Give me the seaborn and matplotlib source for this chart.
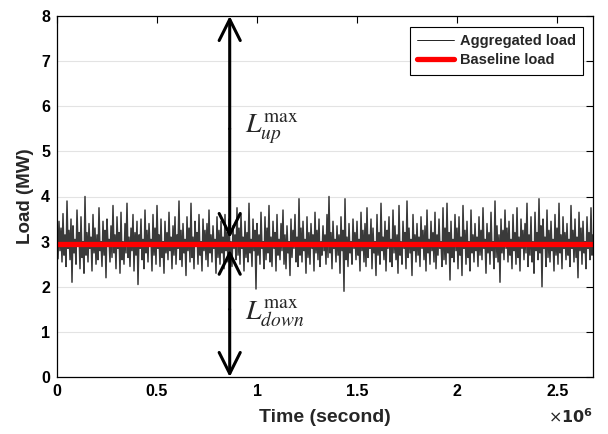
import numpy as np
import pandas as pd
import matplotlib
matplotlib.use("Agg")
import matplotlib.pyplot as plt
import seaborn as sns

# ---- data ----
load_mw = [
    3.10, 2.62, 3.45, 2.80, 3.30, 2.55, 3.62, 2.70, 3.15, 2.45, 3.90, 2.85, 3.25, 2.60, 3.50, 2.10, 3.35, 2.75, 3.05, 2.50, 3.70, 2.90, 3.20, 2.40, 3.55, 2.65, 3.00, 2.30, 4.00, 2.70,
    3.20, 2.55, 3.40, 2.85, 3.10, 2.35, 3.60, 2.75, 3.30, 2.50, 3.15, 2.60, 3.75, 2.80, 3.00, 2.45, 3.45, 2.70, 3.25, 2.20, 3.50, 2.90, 3.05, 2.55, 3.35, 2.65, 3.80, 2.75, 3.15, 2.40,
    3.55, 2.85, 3.20, 2.30, 3.65, 2.60, 3.00, 2.50, 3.40, 2.75, 3.85, 2.65, 3.10, 2.45, 3.30, 2.80, 3.60, 2.35, 3.20, 2.70, 3.45, 2.05, 3.15, 2.85, 3.50, 2.60, 3.05, 2.40, 3.70, 2.75,
    3.25, 2.55, 3.40, 2.90, 3.05, 2.35, 3.60, 2.70, 3.30, 2.50, 3.80, 2.85, 3.15, 2.45, 3.50, 2.65, 3.00, 2.30, 3.45, 2.75, 3.20, 2.60, 3.65, 2.80, 3.10, 2.40, 3.35, 2.70, 3.55, 2.50,
    3.15, 2.85, 3.90, 2.60, 3.25, 2.45, 3.40, 2.75, 3.05, 2.25, 3.55, 2.80, 3.30, 2.55, 3.85, 2.65, 3.10, 2.40, 3.45, 2.90, 3.20, 2.50, 3.60, 2.70, 3.00, 2.35, 3.50, 2.80, 3.25, 2.60,
    3.40, 2.45, 3.70, 2.75, 3.15, 2.55, 3.35, 2.85, 3.05, 2.30, 3.55, 2.65, 3.25, 2.50, 3.45, 2.75, 3.10, 2.40, 3.60, 2.80, 3.20, 2.55, 3.50, 2.70, 3.00, 2.45, 3.35, 2.85, 3.15, 2.60,
    3.75, 2.70, 3.30, 2.50, 3.60, 2.85, 3.10, 2.35, 3.45, 2.65, 3.20, 2.55, 3.85, 2.75, 3.05, 2.45, 3.50, 2.80, 3.25, 1.95, 3.40, 2.70, 3.15, 2.50, 3.65, 2.85, 3.00, 2.40, 3.55, 2.60,
    3.30, 2.75, 3.80, 2.55, 3.10, 2.45, 3.45, 2.85, 3.20, 2.35, 3.60, 2.70, 3.05, 2.60, 3.40, 2.80, 3.70, 2.50, 3.15, 2.40, 3.35, 2.75, 3.00, 2.25, 3.50, 2.65, 3.25, 2.85, 3.60, 2.55,
    3.10, 2.45, 3.95, 2.70, 3.30, 2.55, 3.45, 2.80, 3.05, 2.30, 3.55, 2.65, 3.20, 2.50, 3.40, 2.85, 3.15, 2.35, 3.65, 2.75, 3.25, 2.60, 3.50, 2.45, 3.00, 2.70, 3.35, 2.80, 3.15, 2.50,
    3.60, 2.65, 4.00, 2.75, 3.20, 2.40, 3.45, 2.85, 3.05, 2.55, 3.35, 2.70, 3.15, 2.30, 3.55, 2.80, 3.25, 1.90, 3.95, 2.60, 3.10, 2.45, 3.40, 2.75, 3.00, 2.50, 3.50, 2.85, 3.20, 2.60,
    3.45, 2.70, 3.05, 2.35, 3.65, 2.80, 3.25, 2.55, 3.40, 2.45, 3.75, 2.65, 3.15, 2.85, 3.50, 2.40, 3.30, 2.75, 3.00, 2.25, 3.60, 2.70, 3.20, 2.50, 3.85, 2.80, 3.10, 2.60, 3.45, 2.35,
    3.25, 2.85, 3.55, 2.55, 3.05, 2.45, 3.70, 2.75, 3.35, 2.60, 3.15, 2.30, 3.80, 2.70, 3.00, 2.50, 3.45, 2.85, 3.20, 2.40, 3.90, 2.65, 3.30, 2.75, 3.05, 2.25, 3.60, 2.80, 3.15, 2.55,
    3.40, 2.70, 3.10, 2.45, 3.55, 2.85, 3.25, 2.60, 3.35, 2.35, 3.70, 2.75, 3.05, 2.50, 3.45, 2.80, 3.20, 2.55, 3.65, 2.40, 3.15, 2.70, 3.50, 2.85, 3.00, 2.45, 3.75, 2.60, 3.30, 2.50,
    3.85, 2.75, 3.20, 2.15, 3.45, 2.65, 3.05, 2.55, 3.60, 2.80, 3.30, 2.40, 3.55, 2.70, 3.10, 2.25, 3.80, 2.85, 3.25, 2.50, 3.45, 2.65, 3.00, 2.35, 3.70, 2.75, 3.15, 2.55, 3.40, 2.80,
    3.10, 2.45, 3.55, 2.70, 3.25, 2.60, 3.75, 2.85, 3.05, 2.30, 3.40, 2.75, 3.20, 2.50, 3.65, 2.80, 3.00, 2.40, 3.90, 2.65, 3.35, 2.55, 3.15, 2.10, 3.50, 2.75, 3.25, 2.60, 3.70, 2.85,
    3.30, 2.55, 3.45, 2.70, 3.05, 2.40, 3.60, 2.80, 3.20, 2.50, 3.75, 2.65, 3.10, 2.35, 3.50, 2.85, 3.25, 2.60, 3.40, 2.75, 3.85, 2.45, 3.15, 2.70, 3.55, 2.55, 3.00, 2.30, 3.65, 2.80,
    3.20, 2.60, 3.95, 2.75, 3.35, 2.00, 3.50, 2.85, 3.10, 2.45, 3.70, 2.65, 3.25, 2.55, 3.45, 2.80, 3.05, 2.35, 3.60, 2.70, 3.30, 2.50, 3.85, 2.75, 3.15, 2.40, 3.55, 2.85, 3.20, 2.60,
    3.40, 2.70, 3.05, 2.45, 3.80, 2.85, 3.25, 2.55, 3.50, 2.65, 3.10, 2.20, 3.65, 2.80, 3.30, 2.50, 3.45, 2.75, 3.00, 2.40, 3.55, 2.85, 3.20, 2.60, 3.75, 2.70, 3.15,
]
t_end = 2678400            # seconds (31 days)
baseline_mw = 2.95
arrow_x = 0.863e6
up_arrow = (8.0, 3.08)     # L_up^max arrow: top -> bottom
down_arrow = (0.0, 2.82)   # L_down^max arrow: bottom -> top
x_ticks = [0, 0.5e6, 1.0e6, 1.5e6, 2.0e6, 2.5e6]
x_tick_labels = ["0", "0.5", "1", "1.5", "2", "2.5"]
y_ticks = [0, 1, 2, 3, 4, 5, 6, 7, 8]

n = len(load_mw)
time_s = np.arange(n) * (t_end / (n - 1))
df = pd.DataFrame({"time": time_s, "load": load_mw})
df_base = pd.DataFrame({"time": [0, t_end], "load": [baseline_mw, baseline_mw]})

sns.set_style("white")
plt.rcParams["font.family"] = ["Liberation Sans", "DejaVu Sans"]
plt.rcParams["mathtext.fontset"] = "stix"

fig = plt.figure(figsize=(6.08, 4.34), dpi=100)
ax = fig.add_axes([57 / 608, 1 - 377 / 434, (593 - 57) / 608, (377 - 16) / 434])

ax.yaxis.grid(True, color="#e3e3e3", linewidth=0.8)
ax.set_axisbelow(True)

sns.lineplot(data=df, x="time", y="load", ax=ax, color="#3a3a3a", linewidth=1.1,
             estimator=None, label="Aggregated load", legend=False)
sns.lineplot(data=df_base, x="time", y="load", ax=ax, color="#ff0000", linewidth=3.8,
             estimator=None, label="Baseline load", legend=False)

ax.set_xlim(0, t_end)
ax.set_ylim(0, 8)
ax.set_xticks(x_ticks)
ax.set_xticklabels(x_tick_labels)
ax.set_yticks(y_ticks)
for lab in ax.get_xticklabels() + ax.get_yticklabels():
    lab.set_fontweight("bold")
    lab.set_fontsize(11.5)
ax.tick_params(direction="in", length=5, width=0.8, top=True, right=True,
               colors="black", pad=5)
for s in ax.spines.values():
    s.set_color("black")
    s.set_linewidth(0.9)

ax.set_xlabel("Time (second)", fontsize=14, fontweight="bold", labelpad=7)
ax.set_ylabel("Load (MW)", fontsize=13.5, fontweight="bold", labelpad=5)

fig.text(593 / 608, 1 - 417 / 434, r"$\times\mathbf{10}^{\mathbf{6}}$", fontsize=11.5,
         math_fontfamily="dejavusans", va="center", ha="right")

arrowprops = dict(arrowstyle="->", color="black", lw=2.2, mutation_scale=38,
                  shrinkA=0, shrinkB=0)
ax.annotate("", xy=(arrow_x, up_arrow[0]), xytext=(arrow_x, 5.5), arrowprops=arrowprops)
ax.annotate("", xy=(arrow_x, up_arrow[1]), xytext=(arrow_x, 5.5), arrowprops=arrowprops)
ax.annotate("", xy=(arrow_x, down_arrow[0]), xytext=(arrow_x, 1.5), arrowprops=arrowprops)
ax.annotate("", xy=(arrow_x, down_arrow[1]), xytext=(arrow_x, 1.5), arrowprops=arrowprops)

ax.text(0.94e6, 5.5, r"$L_{up}^{\mathrm{max}}$", fontsize=20, va="center", ha="left")
ax.text(0.94e6, 1.4, r"$L_{down}^{\mathrm{max}}$", fontsize=20, va="center", ha="left")

leg = ax.legend(loc="upper right", bbox_to_anchor=(0.981, 0.97), borderaxespad=0,
                frameon=True, fancybox=False, edgecolor="black", framealpha=1,
                prop={"weight": "bold", "size": 10.5}, handlelength=2.5,
                borderpad=0.5, labelspacing=0.35, handletextpad=0.4)
leg.get_frame().set_linewidth(0.8)
leg.legend_handles[0].set_color("black")
leg.legend_handles[0].set_linewidth(0.6)

fig.savefig("out.png", dpi=100)
